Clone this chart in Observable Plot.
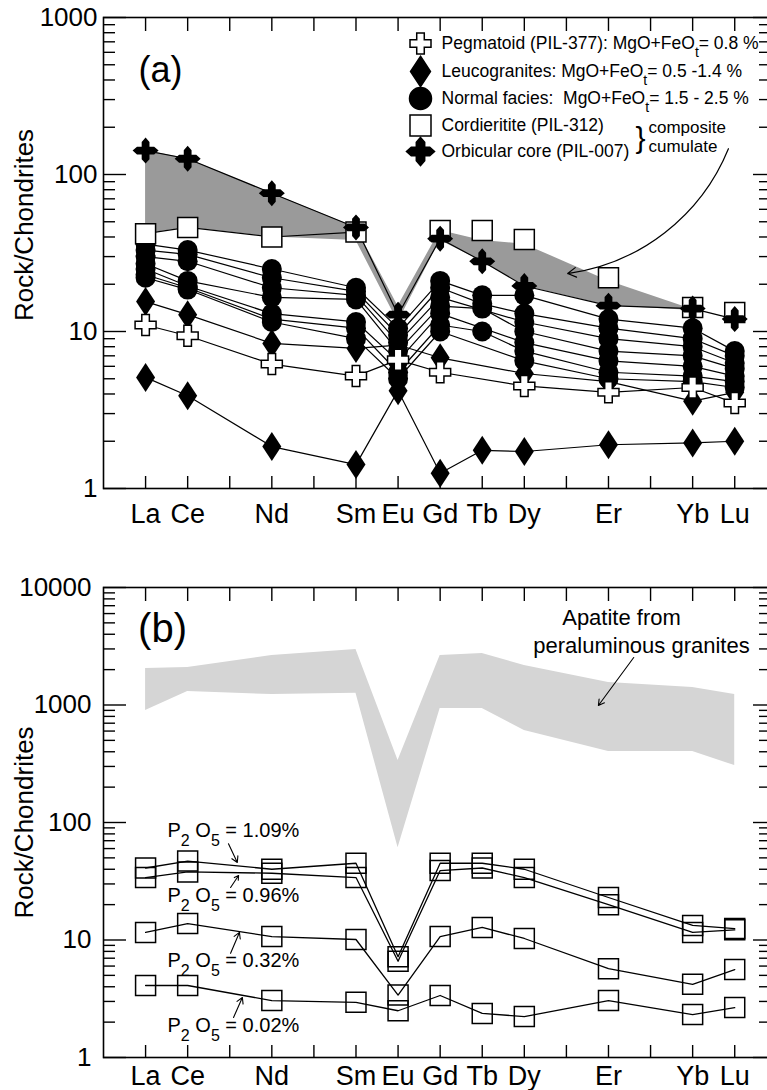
<!DOCTYPE html>
<html><head><meta charset="utf-8">
<script src="https://cdn.jsdelivr.net/npm/d3@7"></script>
<script src="https://cdn.jsdelivr.net/npm/@observablehq/plot@0.6"></script>
<style>
html,body{margin:0;padding:0;background:#fff;overflow:hidden;width:767px;height:1090px}
#wrap{position:relative;width:767px;height:1090px;overflow:hidden}
#wrap svg{max-width:none !important;display:block}
#wrap svg text{white-space:pre}
</style></head><body><div id="wrap"></div>
<script>
// ---------- categories ----------
const elements = ["La","Ce","Pr","Nd","Pm","Sm","Eu","Gd","Tb","Dy","Ho","Er","Tm","Yb","Lu"];
const labeled = ["La","Ce","Nd","Sm","Eu","Gd","Tb","Dy","Er","Yb","Lu"];
const ree = ["La","Ce","Nd","Sm","Eu","Gd","Tb","Dy","Er","Yb","Lu"];

// ---------- panel (a) values (rock / chondrites) ----------
const orbicularCore = [142,126,76,46,12.8,39,28,19.5,14.6,14,12];
const cordieritite  = [42,46,40,43,null,44,44,38.5,22,14.2,13.2];
const pegmatoid     = [11,9.4,6.2,5.2,6.6,5.5,null,4.5,4.1,4.4,3.5];
const leuco1        = [15.5,12.8,8.4,7.8,8.2,6.8,null,5.4,4.8,3.6,4.1];
const leuco2        = [5.1,3.9,1.85,1.42,4.2,1.25,1.75,1.72,1.9,1.95,2.0];
const normal1 = [36,33,25,19,10.5,21,17,17,12,10.5,7.5];
const normal2 = [33,31,22,18,9.5,19,15,13,10.5,9,7];
const normal3 = [30,28,19,17,8.5,16.5,null,11.5,9,8,6.3];
const normal4 = [27,21,16.5,16,7.5,14.5,14,10,7.5,7,5.8];
const normal5 = [25,19.5,13,11.5,6.5,13,null,8.5,6.5,6,5.2];
const normal6 = [23,19,12,10.5,5.5,11,10,7.5,5.5,5.2,4.8];
const normal7 = [22,18.5,11.5,9,5,10,null,6.5,5,4.8,4.4];
// composite cumulate field (La..Yb)
const fieldEls = ["La","Ce","Nd","Sm","Eu","Gd","Tb","Dy","Er","Yb"];
const fieldHi  = [142,126,76,46,14.5,44,38,36,21,13.8];
const fieldLo  = [42,46,40,38,11.5,38,28,19.5,14.6,13.6];

// ---------- panel (b) values ----------
const p2o5_109 = [41,47,40,45,7.2,45,45,40,23,13.3,12.5];
const p2o5_096 = [34,38,37,34,6.6,39,41,34,20,11.6,12.2];
const p2o5_032 = [11.6,13.8,10.7,10.1,3.4,10.7,12.8,10.3,5.7,4.2,5.6];
const p2o5_002 = [4.1,4.1,3.05,2.95,2.5,3.37,2.37,2.23,3.05,2.32,2.66];
const apatiteHi = [2046,2090,2640,2966,337,2640,2743,2168,1554,1409,1229];
const apatiteLo = [898,1303,1228,1260,61,934,934,607,402,402,305];

// ---------- texts ----------
const yTitle = "Rock/Chondrites";
const legendLabels = [
  "Pegmatoid (PIL-377): MgO+FeO_t= 0.8 %",
  "Leucogranites: MgO+FeO_t= 0.5 -1.4 %",
  "Normal facies:  MgO+FeO_t= 1.5 - 2.5 %",
  "Cordieritite (PIL-312)",
  "Orbicular core (PIL-007)"
];
const p2o5Labels = ["P_2 O_5 = 1.09%","P_2 O_5 = 0.96%","P_2 O_5 = 0.32%","P_2 O_5 = 0.02%"];

// ---------- helpers ----------
const idx = e => elements.indexOf(e) + 1;
const rows = (series, vals, cols = ree) =>
  cols.map((e, i) => ({series, x: idx(e), y: vals[i]})).filter(d => d.y != null);

const r_ = s => Math.sqrt(s / Math.PI);
const squareSym = {draw(c, s){ const r = r_(s); c.rect(-r, -r, 2*r, 2*r); }};
const diamondSym = {draw(c, s){ const r = r_(s); c.moveTo(0,-1.45*r); c.lineTo(0.95*r,0); c.lineTo(0,1.45*r); c.lineTo(-0.95*r,0); c.closePath(); }};
const crossSym = {draw(c, s){ const r = r_(s), a = 0.36*r;
  const p = [[-a,-r],[a,-r],[a,-a],[r,-a],[r,a],[a,a],[a,r],[-a,r],[-a,a],[-r,a],[-r,-a],[-a,-a]];
  c.moveTo(...p[0]); p.slice(1).forEach(q => c.lineTo(...q)); c.closePath(); }};
const starSym = {draw(c, s){ const r = r_(s);
  const arm = [[0,-1],[0.3,-0.66],[0.3,-0.3],[0.66,-0.3]];
  const pts = [];
  for (let k = 0; k < 4; k++) { const ang = k*Math.PI/2, co = Math.cos(ang), si = Math.sin(ang);
    arm.forEach(([x,y]) => pts.push([r*(x*co - y*si), r*(x*si + y*co)])); }
  c.moveTo(...pts[0]); pts.slice(1).forEach(q => c.lineTo(...q)); c.closePath(); }};

const W = 772, H = 545;
const fontFamily = "'Liberation Sans', Arial, Helvetica, sans-serif";
const xDomain = [0, 15.85];
const xTicks = d3.range(1, 16);
const labeledTicks = labeled.map(idx);

function axes(majors, minors, yPad, xPad) {
  const tk = {fill: "none", stroke: "black", strokeWidth: 1.4, label: null};
  return [
    Plot.axisY({...tk, anchor: "left", ticks: majors, tickSize: 23, dx: 23}),
    Plot.axisY({...tk, anchor: "left", ticks: minors, tickSize: 12, dx: 12}),
    Plot.axisY({...tk, anchor: "right", ticks: majors, tickSize: 18, dx: -18}),
    Plot.axisY({...tk, anchor: "right", ticks: minors, tickSize: 12, dx: -12}),
    Plot.axisX({...tk, anchor: "top", ticks: xTicks, tickSize: 13, dy: 13}),
    Plot.axisX({...tk, anchor: "bottom", ticks: xTicks, tickSize: 12, dy: -12}),
    Plot.axisY({anchor: "left", ticks: majors, tickSize: 0, tickPadding: yPad, fontSize: 26, tickFormat: d => String(d), label: null, fill: "black"}),
    Plot.axisX({anchor: "bottom", ticks: labeledTicks, tickSize: 0, tickPadding: xPad, fontSize: 27, tickFormat: i => elements[i - 1], label: null, fill: "black"}),
    Plot.frame({stroke: "black", strokeWidth: 1.6})
  ];
}
const minorsOf = decades => decades.flatMap(d => d3.range(2, 10).map(m => m * d));

// ---------- panel (a) ----------
const normals = [normal1,normal2,normal3,normal4,normal5,normal6,normal7];
const normalRows = normals.flatMap((v, i) => rows("n" + i, v));
const leucoRows = [...rows("l1", leuco1), ...rows("l2", leuco2)];
const pegRows = rows("peg", pegmatoid);
const orbRows = rows("orb", orbicularCore);
const cordRows = rows("cord", cordieritite);
const fieldRows = fieldEls.map((e, i) => ({x: idx(e), lo: fieldLo[i], hi: fieldHi[i]}));
const lineRowsA = [...normalRows, ...leucoRows, ...pegRows, ...orbRows, ...cordRows.filter(d => d.x <= idx("Sm"))];

const legendSyms = [
  {symbol: crossSym, fill: "white", r: 10.5, y: 43},
  {symbol: diamondSym, fill: "black", r: 10.5, y: 71},
  {symbol: "circle", fill: "black", r: 11, y: 98},
  {symbol: squareSym, fill: "white", r: 10.5, y: 125},
  {symbol: starSym, fill: "black", r: 14, y: 151}
];
const legendMarks = legendSyms.flatMap((s, i) => [
  Plot.dot([0], {frameAnchor: "top-left", dx: 317, dy: s.y - 17, symbol: s.symbol, r: s.r, fill: s.fill, stroke: "black", strokeWidth: 1.5}),
  Plot.text([legendLabels[i]], {frameAnchor: "top-left", dx: 338, dy: s.y - 17, text: d => d, textAnchor: "start", lineAnchor: "middle", fontSize: 17.5, fill: "black"})
]);

const arrowA = [{x1: 14.85, y1: 146, x2: 11.03, y2: 23.4}];

const plotA = Plot.plot({
  width: W, height: H, marginLeft: 103, marginRight: 2, marginTop: 17, marginBottom: 57,
  x: {domain: xDomain}, y: {type: "log", domain: [1, 1000]},
  style: {fontFamily, background: "white", color: "black"},
  marks: [
    Plot.areaY(fieldRows, {x: "x", y1: "lo", y2: "hi", fill: "#9a9a9a"}),
    Plot.line(lineRowsA, {x: "x", y: "y", z: "series", stroke: "black", strokeWidth: 1.2}),
    Plot.dot(normalRows, {x: "x", y: "y", r: 10, symbol: "circle", fill: "black"}),
    Plot.dot(leucoRows, {x: "x", y: "y", r: 10, symbol: diamondSym, fill: "black"}),
    Plot.dot(cordRows, {x: "x", y: "y", r: 10, symbol: squareSym, fill: "white", stroke: "black", strokeWidth: 1.5}),
    Plot.dot(orbRows, {x: "x", y: "y", r: 13, symbol: starSym, fill: "black"}),
    Plot.dot(pegRows, {x: "x", y: "y", r: 10.5, symbol: crossSym, fill: "white", stroke: "black", strokeWidth: 1.5}),
    ...axes([1,10,100,1000], minorsOf([1,10,100]), 6, 15),
    Plot.text(["(a)"], {frameAnchor: "top-left", dx: 57, dy: 53, text: d => d, fontSize: 36, lineAnchor: "middle", textAnchor: "middle", fill: "black"}),
    Plot.text([yTitle], {frameAnchor: "left", dx: -79, dy: -28, rotate: -90, text: d => d, fontSize: 26, textAnchor: "middle", lineAnchor: "middle", fill: "black"}),
    ...legendMarks,
    Plot.text(["}"], {frameAnchor: "top-left", dx: 537, dy: 121, text: d => d, fontSize: 30, textAnchor: "middle", lineAnchor: "middle", fill: "black"}),
    Plot.text(["composite"], {frameAnchor: "top-left", dx: 545, dy: 110, text: d => d, fontSize: 17, textAnchor: "start", lineAnchor: "middle", fill: "black"}),
    Plot.text(["cumulate"], {frameAnchor: "top-left", dx: 545, dy: 129, text: d => d, fontSize: 17, textAnchor: "start", lineAnchor: "middle", fill: "black"}),
    Plot.arrow(arrowA, {x1: "x1", y1: "y1", x2: "x2", y2: "y2", bend: 30, stroke: "black", strokeWidth: 1.2, headLength: 12})
  ]
});

// ---------- panel (b) ----------
const bRows = [
  ...rows("s109", p2o5_109), ...rows("s096", p2o5_096), ...rows("s032", p2o5_032), ...rows("s002", p2o5_002)
];
const apatiteRows = ree.map((e, i) => ({x: idx(e), lo: apatiteLo[i], hi: apatiteHi[i]}));
const arrowsB = [
  {x1: 12.6, y1: 2535, x2: 11.76, y2: 990},
  {x1: 2.97, y1: 66, x2: 3.18, y2: 45.7},
  {x1: 3.02, y1: 28, x2: 3.21, y2: 35.4},
  {x1: 3.02, y1: 7.7, x2: 3.23, y2: 11.6},
  {x1: 3.09, y1: 2.19, x2: 3.30, y2: 3.24}
];
const p2o5Dy = [243, 308, 373, 438];

const plotB = Plot.plot({
  width: W, height: H, marginLeft: 103, marginRight: 2, marginTop: 42, marginBottom: 33,
  x: {domain: xDomain}, y: {type: "log", domain: [1, 10000]},
  style: {fontFamily, background: "white", color: "black"},
  marks: [
    Plot.areaY(apatiteRows, {x: "x", y1: "lo", y2: "hi", fill: "#d5d5d5"}),
    Plot.line(bRows, {x: "x", y: "y", z: "series", stroke: "black", strokeWidth: 1.3}),
    Plot.dot(bRows, {x: "x", y: "y", r: 10, symbol: squareSym, fill: "none", stroke: "black", strokeWidth: 1.5}),
    ...axes([1,10,100,1000,10000], minorsOf([1,10,100,1000]), 12, 8),
    Plot.text(["(b)"], {frameAnchor: "top-left", dx: 59, dy: 42, text: d => d, fontSize: 40, lineAnchor: "middle", textAnchor: "middle", fill: "black"}),
    Plot.text([yTitle], {frameAnchor: "left", dx: -79, dy: 0, rotate: -90, text: d => d, fontSize: 26, textAnchor: "middle", lineAnchor: "middle", fill: "black"}),
    Plot.text(["Apatite from"], {frameAnchor: "top-left", dx: 518, dy: 30, text: d => d, fontSize: 22, textAnchor: "middle", lineAnchor: "middle", fill: "black"}),
    Plot.text(["peraluminous granites"], {frameAnchor: "top-left", dx: 538, dy: 58, text: d => d, fontSize: 22, textAnchor: "middle", lineAnchor: "middle", fill: "black"}),
    ...p2o5Labels.map((t, i) => Plot.text([t], {frameAnchor: "top-left", dx: 64, dy: p2o5Dy[i], text: d => d, fontSize: 20, textAnchor: "start", lineAnchor: "middle", fill: "black"})),
    Plot.arrow(arrowsB, {x1: "x1", y1: "y1", x2: "x2", y2: "y2", stroke: "black", strokeWidth: 1.1, headLength: 9})
  ]
});

// subscripts: "_x" -> subscript tspan
function applySubs(svg) {
  svg.querySelectorAll("text").forEach(t => {
    if (t.children.length || !t.textContent.includes("_")) return;
    const parts = t.textContent.split(/(_\w)/).filter(p => p.length);
    t.textContent = "";
    parts.forEach(p => {
      const ts = document.createElementNS("http://www.w3.org/2000/svg", "tspan");
      if (p[0] === "_") { ts.textContent = p.slice(1); ts.setAttribute("baseline-shift", "sub"); ts.setAttribute("font-size", "80%"); }
      else ts.textContent = p;
      t.appendChild(ts);
    });
  });
}
const wrap = document.getElementById("wrap");
wrap.appendChild(plotA); wrap.appendChild(plotB);
applySubs(plotA); applySubs(plotB);
</script></body></html>
